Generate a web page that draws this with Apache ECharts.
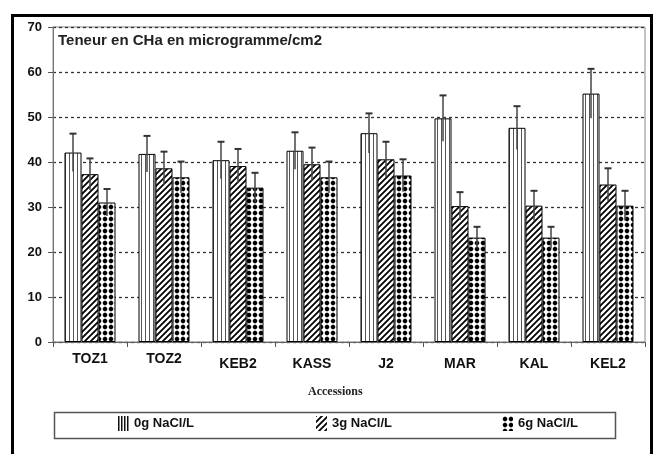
<!DOCTYPE html>
<html>
<head>
<meta charset="utf-8">
<script src="https://cdn.jsdelivr.net/npm/echarts@6/dist/echarts.min.js"></script>
<style>html,body{margin:0;padding:0;background:#fff;}#c{width:653px;height:454px;}</style>
</head>
<body>
<div id="c"></div>
<script>
const categories = ['TOZ1','TOZ2','KEB2','KASS','J2','MAR','KAL','KEL2'];
const seriesNames = ['0g NaCl/L','3g NaCl/L','6g NaCl/L'];
const val0 = [42.1, 41.8, 40.4, 42.5, 46.4, 49.7, 47.6, 55.2];
const err0 = [4.2, 4.0, 4.1, 4.1, 4.4, 5.1, 4.8, 5.5];
const val3 = [37.3, 38.6, 39.1, 39.5, 40.6, 30.2, 30.3, 35.0];
const err3 = [3.5, 3.7, 3.8, 3.7, 3.9, 3.1, 3.3, 3.6];
const val6 = [31.0, 36.6, 34.3, 36.6, 37.0, 23.2, 23.2, 30.3];
const err6 = [3.0, 3.5, 3.3, 3.5, 3.6, 2.4, 2.4, 3.3];
const yTicks = [0, 10, 20, 30, 40, 50, 60, 70];
const chartTitle = 'Teneur en CHa en microgramme/cm2';
const xTitle = 'Accessions';

const BAR_W = 17;
const FONT = '"Liberation Sans", Arial, sans-serif';

function pattern(kind){
  const c = document.createElement('canvas');
  const ctx = c.getContext('2d');
  if(kind === 'v' || kind === 'vl'){
    c.width = kind === 'v' ? 4 : 3; c.height = 4;
    ctx.fillStyle = '#fff'; ctx.fillRect(0,0,c.width,4);
    ctx.fillStyle = kind === 'v' ? '#555' : '#111'; ctx.fillRect(kind === 'v' ? 1 : 0,0,kind === 'v' ? 1 : 1.5,4);
  } else if(kind === 'd'){
    c.width = 6; c.height = 6;
    ctx.fillStyle = '#fff'; ctx.fillRect(0,0,6,6);
    ctx.strokeStyle = '#000'; ctx.lineWidth = 1.8;
    ctx.beginPath();
    ctx.moveTo(-1,7); ctx.lineTo(7,-1);
    ctx.moveTo(-4,4); ctx.lineTo(4,-4);
    ctx.moveTo(2,10); ctx.lineTo(10,2);
    ctx.stroke();
  } else {
    c.width = 6; c.height = 6;
    ctx.fillStyle = '#fff'; ctx.fillRect(0,0,6,6);
    ctx.strokeStyle = '#888'; ctx.lineWidth = 0.6;
    ctx.beginPath(); ctx.moveTo(0,3); ctx.lineTo(6,3); ctx.moveTo(3,0); ctx.lineTo(3,6); ctx.stroke();
    ctx.fillStyle = '#000';
    ctx.beginPath(); ctx.arc(3,3,2.2,0,Math.PI*2); ctx.fill();
  }
  return {image: c, repeat: 'repeat'};
}
const fills = [pattern('v'), pattern('d'), pattern('p')];
const legendFills = [pattern('vl'), fills[1], fills[2]];
const vals = [val0, val3, val6];
const errs = [err0, err3, err6];

const series = [];
vals.forEach((v, k) => {
  series.push({
    name: seriesNames[k], type: 'bar', data: v, barWidth: BAR_W, barGap: '0%',
    itemStyle: {color: fills[k], borderColor: '#000', borderWidth: 1},
    z: 2
  });
});
vals.forEach((v, k) => {
  const offset = (k - 1) * BAR_W;
  series.push({
    type: 'custom', z: 5, silent: true,
    data: v.map((y, i) => [i, y, errs[k][i]]),
    encode: {x: 0, y: 1},
    renderItem: function(params, api){
      const ci = api.value(0), y = api.value(1), e = api.value(2);
      const t = api.coord([ci, y + e]);
      const b = api.coord([ci, y - e]);
      const x = t[0] + offset;
      return {type: 'group', children: [
        {type: 'line', shape: {x1: x, y1: t[1], x2: x, y2: b[1]}, style: {stroke: '#444', lineWidth: 1.5}},
        {type: 'line', shape: {x1: x - 3.5, y1: t[1], x2: x + 3.5, y2: t[1]}, style: {stroke: '#333', lineWidth: 2}}
      ]};
    }
  });
});

const legendLefts = [118, 316, 502];
const legends = seriesNames.map((n, k) => ({
  data: [n], left: legendLefts[k], top: 416, padding: 0,
  itemWidth: 11, itemHeight: 15, itemGap: 5, icon: 'rect',
  itemStyle: {borderWidth: 0, color: legendFills[k]},
  textStyle: {fontFamily: FONT, fontWeight: 'bold', fontSize: 13, color: '#111'},
  selectedMode: false
}));

const chart = echarts.init(document.getElementById('c'), null, {renderer: 'canvas'});
chart.setOption({
  animation: false,
  backgroundColor: '#fff',
  grid: {left: 53, right: 8, top: 27, bottom: 112, show: true, borderColor: '#888', borderWidth: 1, containLabel: false},
  legend: legends,
  xAxis: {
    type: 'category', data: categories,
    axisLine: {lineStyle: {color: '#666', width: 1}},
    axisTick: {show: true, length: 5, lineStyle: {color: '#555'}},
    axisLabel: {
      interval: 0, hideOverlap: false,
      fontFamily: FONT, fontWeight: 'bold', fontSize: 14, color: '#111', margin: 10,
      formatter: (v, i) => (i < 2 ? '{a|' + v + '}' : '{b|' + v + '}'),
      rich: {
        a: {fontFamily: FONT, fontWeight: 'bold', fontSize: 14, color: '#111'},
        b: {fontFamily: FONT, fontWeight: 'bold', fontSize: 14, color: '#111', padding: [5, 0, 0, 0]}
      }
    },
    splitLine: {show: false}
  },
  yAxis: {
    type: 'value', min: yTicks[0], max: yTicks[yTicks.length - 1], interval: 10,
    axisLine: {show: true, lineStyle: {color: '#777', width: 1}},
    axisTick: {show: true, length: 5, lineStyle: {color: '#555'}},
    axisLabel: {fontFamily: FONT, fontWeight: 'bold', fontSize: 13, color: '#111', margin: 11},
    splitLine: {show: true, lineStyle: {color: '#333', type: [3, 3], width: 1.3}}
  },
  graphic: [
    {type: 'rect', left: 10, top: 13, shape: {x: 0, y: 0, width: 639, height: 480}, style: {fill: 'none', stroke: '#000', lineWidth: 3}, z: 100},
    {type: 'text', left: 58, top: 33, style: {text: chartTitle, font: 'bold 15px ' + FONT, fill: '#222'}, z: 10},
    {type: 'text', left: 308, top: 386, style: {text: xTitle, font: 'bold 12px "Liberation Serif", "Times New Roman", serif', fill: '#222'}, z: 10},
    {type: 'rect', left: 52, top: 410, shape: {x: 0, y: 0, width: 561, height: 26}, style: {fill: 'none', stroke: '#555', lineWidth: 1.5}, z: 10}
  ],
  series: series
});
</script>
</body>
</html>
